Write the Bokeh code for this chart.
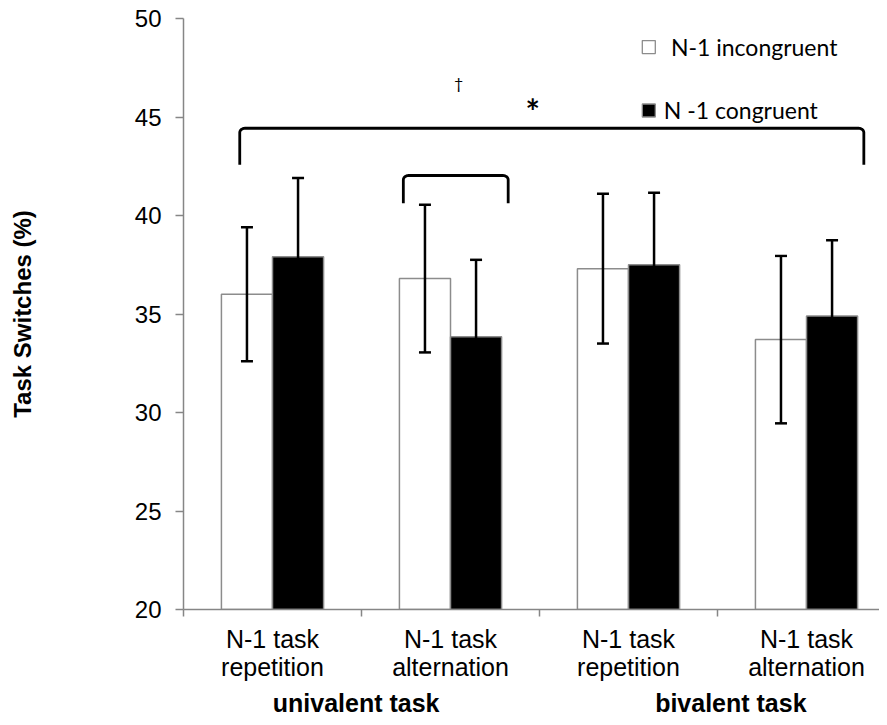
import numpy as np
from bokeh.plotting import figure
from bokeh.models import (ColumnDataSource, Range1d, FixedTicker, LinearAxis,
                          Whisker, TeeHead)
from bokeh.core.properties import value
from bokeh.embed import file_html
from bokeh.resources import INLINE

# ---------------- data ----------------
categories = ["N-1 task\nrepetition", "N-1 task\nalternation",
              "N-1 task\nrepetition", "N-1 task\nalternation"]
groups = ["univalent task", "bivalent task"]
series_names = ["N-1 incongruent", "N -1 congruent"]
incongruent = [36.0, 36.8, 37.3, 33.7]
incongruent_err = [3.4, 3.75, 3.8, 4.25]
congruent = [37.9, 33.85, 37.5, 34.9]
congruent_err = [4.0, 3.9, 3.65, 3.85]
y_ticks = [20, 25, 30, 35, 40, 45, 50]

# significance brackets: (x_start, x_end, y_top, y_end) in data units
bracket_big = (0.316, 3.822, 44.43, 42.57)
bracket_small = (1.235, 1.824, 42.03, 40.62)
star_pos = (1.962, 45.35)
dagger_pos = (1.545, 46.75)

# ---------------- figure ----------------
p = figure(frame_width=696, frame_height=591, output_backend="svg",
           toolbar_location=None, x_range=Range1d(0, 3.91),
           y_range=Range1d(20, 50), min_border_left=183, min_border_top=18,
           min_border_right=0, min_border_bottom=0)
p.outline_line_color = None
p.grid.grid_line_color = None
p.background_fill_color = "white"

n = len(categories)
centers = np.arange(n) + 0.5
bw = 0.287
axis_grey = "#868686"

src_w = ColumnDataSource(dict(x=centers - bw / 2, top=incongruent,
                              lo=np.array(incongruent) - np.array(incongruent_err),
                              hi=np.array(incongruent) + np.array(incongruent_err)))
src_b = ColumnDataSource(dict(x=centers + bw / 2, top=congruent,
                              lo=np.array(congruent) - np.array(congruent_err),
                              hi=np.array(congruent) + np.array(congruent_err)))

p.vbar(x="x", top="top", bottom=20, width=bw, source=src_w,
       fill_color="white", line_color="#8c8c8c", line_width=1.5)
p.vbar(x="x", top="top", bottom=20, width=bw, source=src_b,
       fill_color="black", line_color="#8c8c8c", line_width=1.5)

for src in (src_w, src_b):
    w = Whisker(source=src, base="x", upper="hi", lower="lo",
                line_color="black", line_width=2.5, level="overlay",
                upper_head=TeeHead(size=12, line_width=2.5, line_color="black"),
                lower_head=TeeHead(size=12, line_width=2.5, line_color="black"))
    p.add_layout(w)


def bracket(b, rx=0.03, ry=0.22):
    x0, x1, yt, yb = b
    t = np.linspace(0, np.pi / 2, 8)
    lx = x0 + rx - rx * np.cos(t)
    ly = yt - ry + ry * np.sin(t)
    rxs = x1 - rx + rx * np.cos(t[::-1])
    rys = yt - ry + ry * np.sin(t[::-1])
    xs = np.concatenate([[x0], lx, rxs, [x1]])
    ys = np.concatenate([[yb], ly, rys, [yb]])
    return xs, ys


for b in (bracket_big, bracket_small):
    xs, ys = bracket(b)
    p.line(xs, ys, line_color="black", line_width=2.8)

p.text(x=[star_pos[0]], y=[star_pos[1]], text=["*"], text_font=value("Lato"),
       text_font_style="bold", text_font_size="34px", text_align="center",
       text_baseline="middle", text_color="black")
p.text(x=[dagger_pos[0]], y=[dagger_pos[1]], text=["\u2020"],
       text_font=value("Lato"), text_font_size="16px", text_align="center",
       text_baseline="middle", text_color="black")

# legend drawn by hand
leg_x = [2.614, 2.614]
leg_y = [48.55, 45.33]
p.scatter(x=leg_x, y=leg_y, marker="square", size=13,
          fill_color=["white", "black"], line_color="#8c8c8c", line_width=1.3)
p.text(x=[2.738, 2.698], y=leg_y, text=series_names, text_font=value("Lato"),
       text_font_size="23px", text_baseline="middle", text_align="left",
       text_color="black")

# ---------------- axes ----------------
yax = p.yaxis[0]
yax.ticker = FixedTicker(ticks=y_ticks)
yax.axis_line_color = axis_grey
yax.axis_line_width = 1.5
yax.major_tick_line_color = axis_grey
yax.major_tick_line_width = 1.5
yax.major_tick_out = 8
yax.major_tick_in = 0
yax.minor_tick_line_color = None
yax.major_label_text_font = "Liberation Sans"
yax.major_label_text_font_size = "24px"
yax.major_label_text_color = "black"
yax.major_label_standoff = 14
yax.axis_label = "Task Switches (%)"
yax.axis_label_text_font = "Liberation Sans"
yax.axis_label_text_font_style = "bold"
yax.axis_label_text_font_size = "24px"
yax.axis_label_text_color = "black"
yax.axis_label_standoff = 96

# category axis: labels at centers, ticks (minor) at category boundaries
xax = p.xaxis[0]
xax.ticker = FixedTicker(ticks=list(centers), minor_ticks=[0, 1, 2, 3])
xax.major_label_overrides = {float(c): lab for c, lab in zip(centers, categories)}
xax.axis_line_color = axis_grey
xax.axis_line_width = 1.5
xax.major_tick_line_color = None
xax.major_tick_out = 0
xax.major_tick_in = 0
xax.minor_tick_line_color = axis_grey
xax.minor_tick_line_width = 1.5
xax.minor_tick_out = 7
xax.minor_tick_in = 0
xax.major_label_standoff = 8
xax.major_label_text_font = "Liberation Sans"
xax.major_label_text_font_size = "25px"
xax.major_label_text_color = "black"
xax.major_label_text_line_height = 1.0

group_pos = [0.97, 3.075]
gax = LinearAxis(ticker=FixedTicker(ticks=group_pos),
                 major_label_overrides={float(g): lab for g, lab in zip(group_pos, groups)})
gax.axis_line_color = None
gax.major_tick_line_color = None
gax.minor_tick_line_color = None
gax.major_tick_out = 0
gax.major_label_standoff = 5
gax.major_label_text_font = "Liberation Sans"
gax.major_label_text_font_style = "bold"
gax.major_label_text_font_size = "25px"
gax.major_label_text_color = "black"
p.add_layout(gax, "below")

open("out.html", "w").write(file_html(p, INLINE))
